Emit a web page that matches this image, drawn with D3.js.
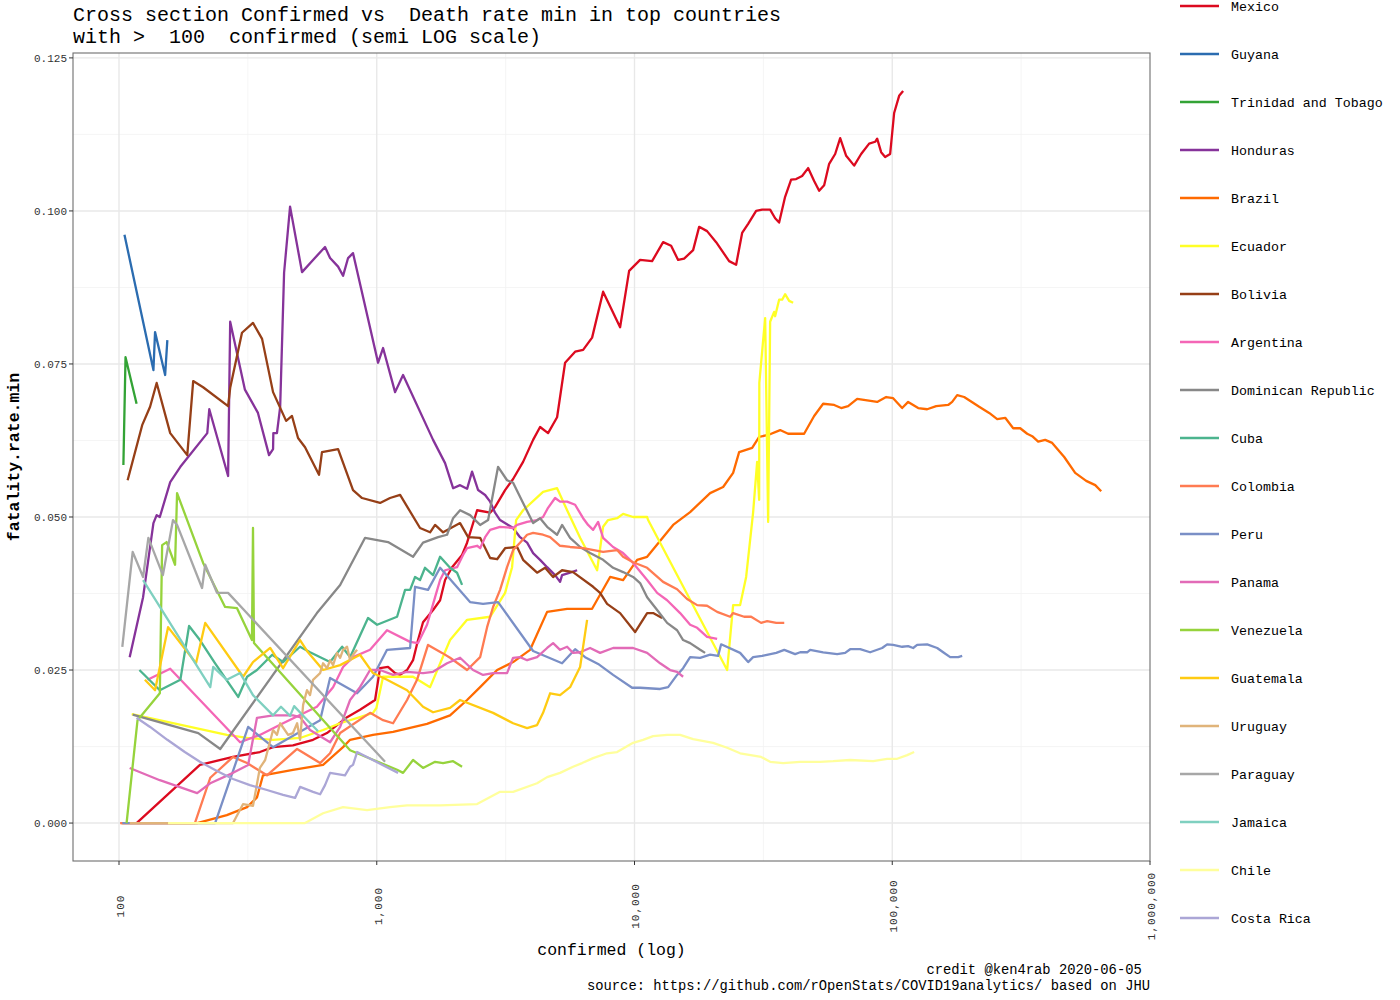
<!DOCTYPE html>
<html><head><meta charset="utf-8">
<script src="https://cdn.jsdelivr.net/npm/d3@7"></script>
<style>
body{margin:0;background:#fff;}
svg text{font-family:"Liberation Mono","Courier New",monospace;white-space:pre;}
</style>
</head><body>
<svg id="chart" width="1400" height="1000" xml:space="preserve"></svg>
<script>
// ---------- data (confirmed, fatality.rate.min) ----------
const countries = ["Mexico","Guyana","Trinidad and Tobago","Honduras","Brazil","Ecuador","Bolivia","Argentina","Dominican Republic","Cuba","Colombia","Peru","Panama","Venezuela","Guatemala","Uruguay","Paraguay","Jamaica","Chile","Costa Rica"];
const colors = ["#dc0a1f","#2b6cb0","#33a335","#86339a","#ff6a00","#ffff26","#963f17","#f466b6","#888888","#4cb48e","#ff7b52","#7a8fc6","#e26bb7","#96d33c","#ffcb12","#e0b47a","#a7a7a7","#7fd0c0","#ffff9c","#aba6d6"];

const mexico = [[117,0],[206,0.0095],[277,0.0108],[352,0.0116],[396,0.0124],[473,0.0127],[566,0.0136],[641,0.0147],[767,0.0173],[861,0.0185],[985,0.0201],[1030,0.0253],[1106,0.0255],[1178,0.0245],[1232,0.0242],[1311,0.025],[1383,0.0266],[1446,0.0299],[1512,0.0328],[1654,0.0348],[1761,0.0364],[1841,0.0397],[1960,0.0418],[2143,0.0438],[2241,0.0458],[2451,0.0511],[2753,0.0507],[2877,0.0516],[3147,0.0544],[3381,0.0562],[3696,0.059],[4042,0.0626],[4302,0.0647],[4620,0.0637],[5008,0.0663],[5379,0.0752],[5883,0.077],[6319,0.0773],[6847,0.0793],[7554,0.0868],[8793,0.081],[9531,0.0902],[10512,0.092],[11703,0.0918],[12912,0.0949],[13869,0.0943],[14764,0.092],[15578,0.0922],[16883,0.0936],[17814,0.0974],[19124,0.0967],[20735,0.0949],[23285,0.0918],[24792,0.0912],[26156,0.0964],[27598,0.0979],[29643,0.1],[31270,0.1002],[33590,0.1002],[35123,0.0988],[36398,0.0981],[38400,0.1023],[40519,0.1051],[42371,0.1052],[44704,0.1057],[47168,0.107],[49770,0.1049],[52046,0.1033],[54426,0.1042],[56913,0.1077],[60048,0.1093],[62806,0.1119],[66256,0.109],[71156,0.1074],[75736,0.1093],[81354,0.111],[85840,0.1113],[87383,0.1118],[90552,0.1096],[93837,0.1088],[98129,0.1093],[101700,0.116],[106340,0.1188],[110200,0.1196]];
const guyana = [[105,0.0961],[136,0.074],[138,0.0802],[151,0.0732],[154,0.0789]];
const trinidad = [[104,0.0585],[106,0.0761],[117,0.0685]];
const honduras = [[110,0.0271],[124,0.0369],[136,0.049],[140,0.0503],[144,0.05],[158,0.0557],[173,0.0582],[220,0.0637],[224,0.0676],[265,0.0567],[270,0.0819],[308,0.0708],[346,0.067],[382,0.0601],[396,0.0611],[397,0.0637],[410,0.0637],[422,0.068],[437,0.0899],[461,0.1007],[513,0.09],[566,0.092],[630,0.0941],[659,0.0923],[708,0.0909],[740,0.0894],[774,0.0923],[809,0.0931],[1012,0.0752],[1058,0.0776],[1178,0.0704],[1265,0.0732],[1654,0.0626],[1841,0.0588],[1978,0.0547],[2105,0.0552],[2241,0.0546],[2343,0.0574],[2473,0.0544],[2633,0.0536],[2753,0.0525],[2877,0.0507],[3009,0.0495],[3381,0.0482],[3597,0.0467],[3831,0.0458],[4042,0.0441],[4302,0.043],[4581,0.0418],[4919,0.0405],[5143,0.0394],[5236,0.0405],[5625,0.0409],[5990,0.0413]];
const brazil = [[102,0],[201,0],[262,0.0013],[314,0.0026],[343,0.0042],[362,0.0078],[473,0.0087],[619,0.0095],[740,0.0124],[788,0.0136],[967,0.0144],[1157,0.0149],[1567,0.0162],[1925,0.0176],[2241,0.0201],[2518,0.0222],[2931,0.025],[3381,0.0263],[3935,0.0283],[4581,0.0345],[5477,0.035],[6847,0.035],[8043,0.0402],[9031,0.0397],[10236,0.043],[11194,0.0435],[14120,0.0487],[16437,0.0508],[19649,0.0539],[22074,0.0549],[24136,0.0572],[25464,0.0606],[28610,0.0613],[30455,0.0631],[33000,0.0634],[36728,0.0642],[39446,0.0636],[45508,0.0636],[49770,0.0665],[53935,0.0685],[59519,0.0683],[63367,0.0678],[67435,0.0681],[73095,0.0693],[87383,0.0688],[94702,0.0696],[100800,0.0694],[109240,0.0678],[115270,0.0688],[126060,0.0678],[136580,0.0676],[148060,0.0681],[164820,0.0683],[170800,0.0688],[178600,0.0699],[190100,0.0696],[217400,0.068],[237700,0.067],[255400,0.066],[274300,0.0662],[294600,0.0645],[313600,0.0645],[333800,0.0636],[349100,0.0632],[368300,0.0623],[392100,0.0626],[417400,0.0621],[464700,0.0598],[512500,0.0572],[565500,0.0559],[613100,0.0552],[646600,0.0542]];
const ecuador = [[112,0.0178],[262,0.0144],[314,0.0139],[396,0.0136],[504,0.0139],[619,0.0152],[721,0.0163],[861,0.0173],[967,0.018],[997,0.0188],[1058,0.0239],[1157,0.0239],[1383,0.0239],[1610,0.0222],[1925,0.0299],[2241,0.0332],[2753,0.0337],[3147,0.0376],[3350,0.0418],[3473,0.0495],[3696,0.0511],[4418,0.0541],[5008,0.0547],[5477,0.0511],[6151,0.0466],[7160,0.0413],[7554,0.0484],[7898,0.0495],[8560,0.0498],[9031,0.0505],[9876,0.05],[11194,0.05],[11294,0.0495],[22880,0.025],[24136,0.0356],[25690,0.0356],[27110,0.0402],[28850,0.0507],[29910,0.059],[30455,0.0528],[30500,0.0719],[32130,0.0825],[33000,0.0492],[33590,0.0819],[34810,0.0835],[35123,0.0828],[36398,0.0855],[37400,0.0855],[38400,0.0864],[39810,0.0853],[41250,0.085]];
const bolivia = [[108,0.056],[123,0.065],[132,0.068],[140,0.0719],[158,0.0637],[184,0.0601],[194,0.0722],[212,0.0712],[265,0.0681],[270,0.0711],[300,0.0801],[331,0.0817],[359,0.0791],[396,0.0704],[445,0.0657],[469,0.0665],[495,0.0629],[527,0.0614],[597,0.0569],[613,0.0606],[708,0.0611],[809,0.0544],[877,0.0531],[1030,0.0523],[1126,0.0531],[1232,0.0536],[1472,0.0482],[1610,0.0475],[1684,0.0487],[1809,0.0475],[2105,0.049],[2262,0.0467],[2518,0.0466],[2753,0.0433],[2931,0.0431],[3147,0.0449],[3504,0.0451],[3696,0.043],[4188,0.0409],[4499,0.0417],[4833,0.0402],[5236,0.0413],[5776,0.041],[6909,0.0386],[7354,0.0376],[7828,0.0358],[8793,0.0343],[10053,0.0312],[11194,0.0343],[11810,0.0343],[12797,0.0335]];
const argentina = [[129,0.0234],[158,0.0252],[295,0.0132],[352,0.0144],[433,0.0163],[586,0.019],[677,0.0222],[740,0.0255],[809,0.0271],[942,0.0283],[1096,0.0315],[1347,0.0296],[1446,0.0294],[1567,0.0324],[1684,0.0369],[1761,0.0397],[1841,0.0413],[2049,0.0418],[2162,0.0438],[2241,0.0449],[2451,0.0453],[2518,0.0449],[2633,0.0467],[2753,0.0479],[3009,0.0484],[3381,0.0482],[3504,0.0487],[3831,0.0492],[4188,0.0495],[4418,0.05],[4620,0.0515],[4919,0.0531],[5143,0.0525],[5477,0.0525],[5883,0.052],[6319,0.0498],[6606,0.0487],[6909,0.0479],[7225,0.0492],[7554,0.0466],[8260,0.0451],[9031,0.0441],[9876,0.0425],[11194,0.0397],[12240,0.0376],[13382,0.0364],[15030,0.0343],[16437,0.0324],[17502,0.0319],[19124,0.0304],[20920,0.0301]];
const dominican = [[113,0.0177],[203,0.0147],[247,0.0121],[586,0.0343],[721,0.0389],[901,0.0466],[1106,0.0459],[1383,0.0435],[1512,0.0458],[1730,0.0467],[1874,0.0471],[1978,0.0498],[2105,0.0511],[2301,0.0503],[2518,0.0487],[2704,0.0495],[2956,0.0582],[3203,0.056],[3381,0.0556],[3696,0.0523],[4042,0.049],[4302,0.0498],[4581,0.0484],[5008,0.0471],[5236,0.0487],[5625,0.0466],[6151,0.0451],[6725,0.0441],[7554,0.043],[8260,0.0417],[9031,0.041],[9876,0.0402],[10512,0.0392],[11194,0.0369],[12240,0.0348],[13382,0.0327],[14630,0.0315],[15440,0.0299],[16437,0.0294],[17975,0.0283],[18790,0.0278]];
const cuba = [[120,0.025],[144,0.0217],[173,0.0234],[187,0.0322],[206,0.0299],[236,0.0261],[290,0.0206],[314,0.0239],[343,0.025],[393,0.0275],[433,0.0263],[504,0.0288],[551,0.0279],[659,0.0263],[734,0.0288],[788,0.0271],[925,0.0335],[1003,0.0324],[1199,0.0337],[1288,0.0381],[1347,0.0381],[1408,0.0402],[1472,0.0397],[1539,0.0417],[1654,0.0405],[1761,0.0435],[1841,0.0426],[1925,0.0417],[2049,0.0409],[2143,0.0389]];
const colombia = [[101,0],[197,0],[226,0.0074],[277,0.0108],[314,0.0098],[375,0.0078],[491,0.0121],[603,0.0098],[659,0.0114],[721,0.0147],[942,0.018],[1058,0.0168],[1157,0.0163],[1311,0.0201],[1433,0.0234],[1581,0.0291],[1792,0.0278],[1925,0.027],[2241,0.025],[2518,0.0271],[2680,0.032],[2827,0.0353],[3009,0.0381],[3203,0.0418],[3381,0.0446],[3597,0.0458],[3831,0.0471],[4042,0.0474],[4418,0.0471],[4705,0.0467],[5143,0.0453],[5625,0.0451],[6319,0.0449],[7554,0.0443],[8560,0.0446],[9031,0.0435],[9876,0.0426],[11194,0.0417],[12910,0.0394],[14630,0.0382],[15996,0.0366],[17502,0.0356],[19124,0.0355],[20920,0.0345],[23490,0.0337],[24136,0.0343],[26630,0.0337],[28350,0.0337],[30990,0.0327],[32710,0.033],[35480,0.0327],[38110,0.0327]];
const peru = [[103,0],[236,0],[317,0.0157],[396,0.0124],[603,0.0168],[659,0.0237],[839,0.0212],[967,0.0239],[1096,0.0283],[1347,0.0286],[1408,0.0386],[1581,0.0381],[1761,0.0417],[2301,0.0361],[2585,0.0358],[2956,0.0361],[4042,0.0281],[5236,0.0261],[5883,0.0284],[6432,0.0271],[7225,0.026],[8260,0.0242],[9788,0.0221],[10512,0.0221],[12570,0.0219],[13505,0.0222],[14630,0.0242],[15440,0.0253],[16437,0.0271],[17975,0.027],[19650,0.0275],[21100,0.0273],[21680,0.0292],[25690,0.0278],[27598,0.0263],[28850,0.0271],[31270,0.0273],[35480,0.0278],[38110,0.0283],[42000,0.0276],[43920,0.0279],[46750,0.0279],[48020,0.0283],[53935,0.0279],[61130,0.0276],[65660,0.0278],[68650,0.0284],[75070,0.0284],[82080,0.0279],[91380,0.0286],[95550,0.0292],[100800,0.0291],[109240,0.0288],[115270,0.0289],[120530,0.0286],[124900,0.0291],[136600,0.0292],[149400,0.0286],[157600,0.0279],[167800,0.0271],[180200,0.0271],[186800,0.0273]];
const panama = [[110,0.009],[144,0.007],[201,0.0049],[226,0.0065],[277,0.0082],[317,0.0095],[343,0.0172],[396,0.0176],[473,0.0176],[504,0.0173],[551,0.0152],[659,0.0132],[721,0.0157],[788,0.0201],[861,0.0222],[942,0.025],[1030,0.025],[1157,0.0242],[1311,0.0247],[1512,0.0245],[1654,0.0247],[1874,0.0261],[2105,0.027],[2364,0.025],[2585,0.0242],[2827,0.0245],[3203,0.0245],[3381,0.027],[3597,0.0271],[3831,0.0266],[4188,0.0271],[4581,0.0286],[4833,0.0294],[5143,0.0283],[5477,0.0288],[5776,0.0278],[6151,0.0279],[6725,0.0286],[7354,0.0278],[8260,0.0286],[9876,0.0286],[11194,0.0278],[12570,0.0261],[13745,0.025],[14630,0.0247],[15440,0.0239]];
const venezuela = [[107,0],[118,0.0168],[144,0.0212],[147,0.0454],[153,0.0459],[165,0.0422],[168,0.0539],[212,0.0425],[258,0.0353],[287,0.0351],[328,0.0299],[331,0.0482],[334,0.0294],[788,0.0119],[1199,0.0087],[1265,0.0082],[1383,0.0103],[1512,0.009],[1684,0.01],[1809,0.0098],[1978,0.0101],[2143,0.0092]];
const guatemala = [[126,0.0234],[138,0.0217],[155,0.032],[199,0.0261],[216,0.0327],[303,0.0239],[331,0.0263],[386,0.0286],[433,0.0253],[504,0.0299],[541,0.0279],[619,0.025],[721,0.0258],[861,0.0275],[967,0.0245],[1096,0.0234],[1311,0.0217],[1512,0.019],[1654,0.0181],[1925,0.0188],[2105,0.0201],[2827,0.018],[3381,0.0163],[3831,0.0155],[4188,0.016],[4418,0.018],[4705,0.0212],[5143,0.0209],[5625,0.0222],[6151,0.0255],[6548,0.0332]];
const uruguay = [[110,0],[155,0],[277,0],[303,0.0031],[331,0.0028],[352,0.009],[369,0.0103],[396,0.0152],[410,0.0144],[422,0.0163],[453,0.0144],[473,0.0147],[491,0.0163],[504,0.0136],[518,0.0193],[536,0.0217],[551,0.0209],[566,0.0234],[603,0.0245],[619,0.0261],[642,0.0253],[659,0.0266],[677,0.0258],[701,0.0278],[721,0.027],[740,0.0283],[767,0.0288],[788,0.0266],[809,0.0275],[839,0.0283]];
const paraguay = [[103,0.0288],[113,0.0443],[124,0.0402],[130,0.0466],[148,0.0405],[162,0.0495],[168,0.0487],[210,0.0384],[216,0.0422],[240,0.0376],[265,0.0376],[1077,0.01]];
const jamaica = [[124,0.0397],[226,0.0222],[232,0.0255],[262,0.0234],[295,0.0245],[331,0.0209],[396,0.0176],[425,0.019],[461,0.0175],[478,0.0191],[527,0.0172],[592,0.015]];
const chile = [[155,0],[527,0],[619,0.0016],[740,0.0026],[917,0.0021],[1126,0.0026],[1311,0.0029],[1761,0.0029],[2451,0.0031],[3009,0.0051],[3381,0.0051],[4188,0.0065],[4581,0.0075],[5143,0.0082],[5776,0.0092],[6262,0.0098],[6909,0.0106],[7828,0.0114],[8560,0.0116],[9876,0.0131],[10800,0.0136],[11810,0.0142],[13382,0.0144],[15030,0.0144],[16883,0.0137],[20180,0.0131],[22880,0.0123],[25690,0.0114],[30990,0.0108],[33590,0.01],[37730,0.0098],[43920,0.01],[52510,0.01],[58980,0.0101],[68650,0.0103],[84330,0.0101],[95550,0.0105],[104500,0.0105],[114300,0.0111],[121600,0.0116]];
const costaRica = [[117,0.0172],[132,0.0157],[154,0.0136],[180,0.0116],[206,0.01],[240,0.0085],[277,0.0072],[322,0.0062],[375,0.0054],[433,0.0046],[482,0.0041],[504,0.0059],[566,0.0051],[603,0.0047],[630,0.0062],[659,0.0082],[753,0.0078],[788,0.0092],[809,0.0095],[839,0.0116],[1210,0.0082]];

const seriesValues = [mexico,guyana,trinidad,honduras,brazil,ecuador,bolivia,argentina,dominican,cuba,colombia,peru,panama,venezuela,guatemala,uruguay,paraguay,jamaica,chile,costaRica];

const xTickValues = [100,1000,10000,100000,1000000];
const xMinorValues = [Math.pow(10,2.5),Math.pow(10,3.5),Math.pow(10,4.5),Math.pow(10,5.5)];
const yTickValues = [0,0.025,0.05,0.075,0.1,0.125];
const yMinorValues = [0.0125,0.0375,0.0625,0.0875,0.1125];

const titleLines = ["Cross section Confirmed vs  Death rate min in top countries","with >  100  confirmed (semi LOG scale)"];
const captionLines = ["credit @ken4rab 2020-06-05 ","source: https://github.com/rOpenStats/COVID19analytics/ based on JHU"];

// ---------- layout ----------
const P = {left:73, right:1150, top:53, bottom:861};
const svg = d3.select("#chart");

const x = d3.scaleLog().domain([66.3, 1.0e6]).range([P.left, P.right]);
const y = d3.scaleLinear().domain([-0.0062, 0.1258]).range([P.bottom, P.top]);

// panel background + grid
const grid = svg.append("g");
grid.selectAll(".ymin").data(yMinorValues).enter().append("line")
  .attr("x1",P.left).attr("x2",P.right).attr("y1",d=>y(d)).attr("y2",d=>y(d))
  .attr("stroke","#f2f2f2").attr("stroke-width",0.8);
grid.selectAll(".xmin").data(xMinorValues).enter().append("line")
  .attr("y1",P.top).attr("y2",P.bottom).attr("x1",d=>x(d)).attr("x2",d=>x(d))
  .attr("stroke","#f2f2f2").attr("stroke-width",0.8);
grid.selectAll(".ymaj").data(yTickValues).enter().append("line")
  .attr("x1",P.left).attr("x2",P.right).attr("y1",d=>y(d)).attr("y2",d=>y(d))
  .attr("stroke","#e8e8e8").attr("stroke-width",1.4);
grid.selectAll(".xmaj").data(xTickValues.filter(d=>d<1e6)).enter().append("line")
  .attr("y1",P.top).attr("y2",P.bottom).attr("x1",d=>x(d)).attr("x2",d=>x(d))
  .attr("stroke","#e8e8e8").attr("stroke-width",1.4);

// series lines
const line = d3.line().x(d=>x(d[0])).y(d=>y(d[1]));
const lines = svg.append("g");
seriesValues.forEach((s,i)=>{
  lines.append("path").attr("d",line(s)).attr("fill","none")
    .attr("stroke",colors[i]).attr("stroke-width",2.3)
    .attr("stroke-linejoin","round").attr("stroke-linecap","butt");
});

// panel border
svg.append("rect").attr("x",P.left).attr("y",P.top)
  .attr("width",P.right-P.left).attr("height",P.bottom-P.top)
  .attr("fill","none").attr("stroke","#6e6e6e").attr("stroke-width",1.1);

// y axis
const yAxis = svg.append("g");
yTickValues.forEach(v=>{
  yAxis.append("line").attr("x1",P.left-4).attr("x2",P.left).attr("y1",y(v)).attr("y2",y(v))
    .attr("stroke","#333").attr("stroke-width",1);
  yAxis.append("text").attr("x",P.left-6).attr("y",y(v)).attr("dy","0.35em")
    .attr("text-anchor","end").attr("font-size",11).attr("fill","#333")
    .text(d3.format(".3f")(v));
});
// x axis
const fmt = d3.format(",");
const xAxis = svg.append("g");
xTickValues.forEach(v=>{
  xAxis.append("line").attr("x1",x(v)).attr("x2",x(v)).attr("y1",P.bottom).attr("y2",P.bottom+4)
    .attr("stroke","#333").attr("stroke-width",1);
  const cx = x(v)+1, cy = 906;
  xAxis.append("text").attr("x",cx).attr("y",cy).attr("dy","0.35em")
    .attr("text-anchor","middle").attr("font-size",11).attr("letter-spacing","1px").attr("fill","#333")
    .attr("transform",`rotate(-90,${cx},${cy})`).text(fmt(v));
});

// axis titles
svg.append("text").attr("x",(P.left+P.right)/2).attr("y",955).attr("text-anchor","middle")
  .attr("font-size",16.5).attr("fill","#000").text("confirmed (log)");
svg.append("text").attr("transform",`translate(19,${(P.top+P.bottom)/2}) rotate(-90)`)
  .attr("text-anchor","middle").attr("font-size",16.5).attr("font-weight","bold").attr("fill","#000")
  .text("fatality.rate.min");

// title
titleLines.forEach((t,i)=>{
  svg.append("text").attr("x",P.left).attr("y",21+i*21.5).attr("font-size",20).attr("fill","#000").text(t);
});
// caption
captionLines.forEach((t,i)=>{
  svg.append("text").attr("x",P.right).attr("y",974+i*16).attr("text-anchor","end")
    .attr("font-size",13.8).attr("fill","#000").text(t);
});

// legend
const leg = svg.append("g");
countries.forEach((c,i)=>{
  const ly = 6+i*48;
  leg.append("line").attr("x1",1180).attr("x2",1219).attr("y1",ly).attr("y2",ly)
    .attr("stroke",colors[i]).attr("stroke-width",2.6);
  leg.append("text").attr("x",1231).attr("y",ly).attr("dy","0.35em")
    .attr("font-size",13.3).attr("fill","#000").text(c);
});
</script>
</body></html>
